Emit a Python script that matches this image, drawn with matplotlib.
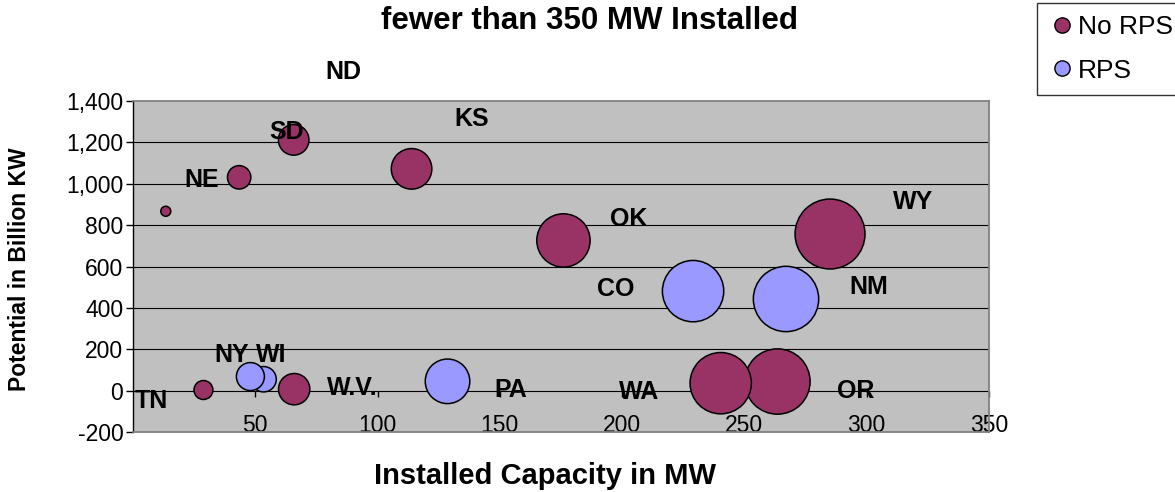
import matplotlib
matplotlib.use('Agg')
import matplotlib.pyplot as plt
from matplotlib.lines import Line2D

plt.rcParams['font.family'] = ['Liberation Sans', 'DejaVu Sans']

# bubble data (x = installed MW, y = potential in billion kW, size = relative bubble area)
no_rps_x = [13.4, 28.8, 43.4, 65.7, 65.9, 113.9, 176, 285, 263.5, 240.3]
no_rps_y = [867, 3, 1031, 1212, 7, 1072, 726, 757, 44, 36]
no_rps_size = [25, 90, 137, 234, 246, 412, 713, 1225, 1069, 942]

rps_x = [53.4, 48, 128.6, 229, 267]
rps_y = [55, 68, 45, 481, 443]
rps_size = [161, 196, 497, 942, 1069]

# state labels
label_text = ['ND', 'KS', 'SD', 'NE', 'OK', 'WY', 'CO', 'NM', 'NY', 'WI',
              'TN', 'W.V.', 'PA', 'WA', 'OR']
label_x = [86, 138.5, 62.7, 27.9, 202.5, 319, 197.5, 301, 40.5, 56.4,
           7.7, 89.6, 154.5, 207, 295.6]
label_y = [1538, 1311, 1248, 1020, 831, 914, 493, 500, 173, 173,
           -48, 12, 3, -5, 0]

x_ticks = [50, 100, 150, 200, 250, 300, 350]
y_ticks = [-200, 0, 200, 400, 600, 800, 1000, 1200, 1400]

maroon = '#993366'
lilac = '#9999FF'
size_scale = 2.07

fig = plt.figure(figsize=(11.75, 4.92), dpi=100)
ax = fig.add_axes([133 / 1175, 60 / 492, 856 / 1175, 331 / 492])
ax.set_facecolor('#C0C0C0')

ax.set_xlim(0, 350)
ax.set_ylim(-200, 1400)

# horizontal gridlines
for v in y_ticks[1:-1]:
    ax.axhline(v, color='black', lw=0.8, zorder=1)

ax.scatter(no_rps_x, no_rps_y, s=[v * size_scale for v in no_rps_size],
           color=maroon, edgecolor='black', linewidth=1.1, zorder=3)
ax.scatter(rps_x, rps_y, s=[v * size_scale for v in rps_size],
           color=lilac, edgecolor='black', linewidth=1.1, zorder=3)

for t, x, y in zip(label_text, label_x, label_y):
    ax.text(x, y, t, ha='center', va='center', fontsize=18,
            fontweight='bold', zorder=5, clip_on=False)

for s in ['top', 'right', 'bottom']:
    ax.spines[s].set_color('#808080')
    ax.spines[s].set_linewidth(1.3)
ax.spines['left'].set_color('black')
ax.spines['left'].set_linewidth(1.0)

ax.set_yticks(y_ticks)
ax.set_yticklabels([f'{v:,}' for v in y_ticks])
ax.tick_params(axis='y', direction='out', length=5, width=1,
               labelsize=16.5, pad=2)

ax.set_xticks(x_ticks)
ax.set_xticklabels([str(v) for v in x_ticks])
ax.tick_params(axis='x', length=0, labelsize=16.5, pad=-13)

# small tick marks where the x axis crosses y = 0
sec = ax.secondary_xaxis(200 / 1600)
sec.set_xticks(x_ticks)
sec.tick_params(axis='x', direction='out', length=4, width=1, labelsize=0,
                labelbottom=False)
sec.spines['bottom'].set_visible(False)

fig.text(590 / 1175, 1 - 21 / 492, 'fewer than 350 MW Installed',
         ha='center', va='center', fontsize=22.5, fontweight='bold')
fig.text(545 / 1175, 1 - 476 / 492, 'Installed Capacity in MW',
         ha='center', va='center', fontsize=21, fontweight='bold')
fig.text(20 / 1175, 1 - 269 / 492, 'Potential in Billion KW',
         ha='center', va='center', fontsize=16.5, fontweight='bold',
         rotation=90)

handles = [
    Line2D([], [], marker='o', linestyle='none', markersize=11,
           markerfacecolor=maroon, markeredgecolor='black', label='No RPS'),
    Line2D([], [], marker='o', linestyle='none', markersize=11,
           markerfacecolor=lilac, markeredgecolor='black', label='RPS'),
]
leg = fig.legend(handles=handles, loc='upper left',
                 bbox_to_anchor=(1037 / 1175, 1 - 3 / 492),
                 fontsize=19, frameon=True, fancybox=False,
                 handletextpad=0.1, handlelength=1.0, borderpad=0.45,
                 labelspacing=0.75, borderaxespad=0)
leg.get_frame().set_edgecolor('black')
leg.get_frame().set_linewidth(1.0)

fig.savefig('out.png', dpi=100)
